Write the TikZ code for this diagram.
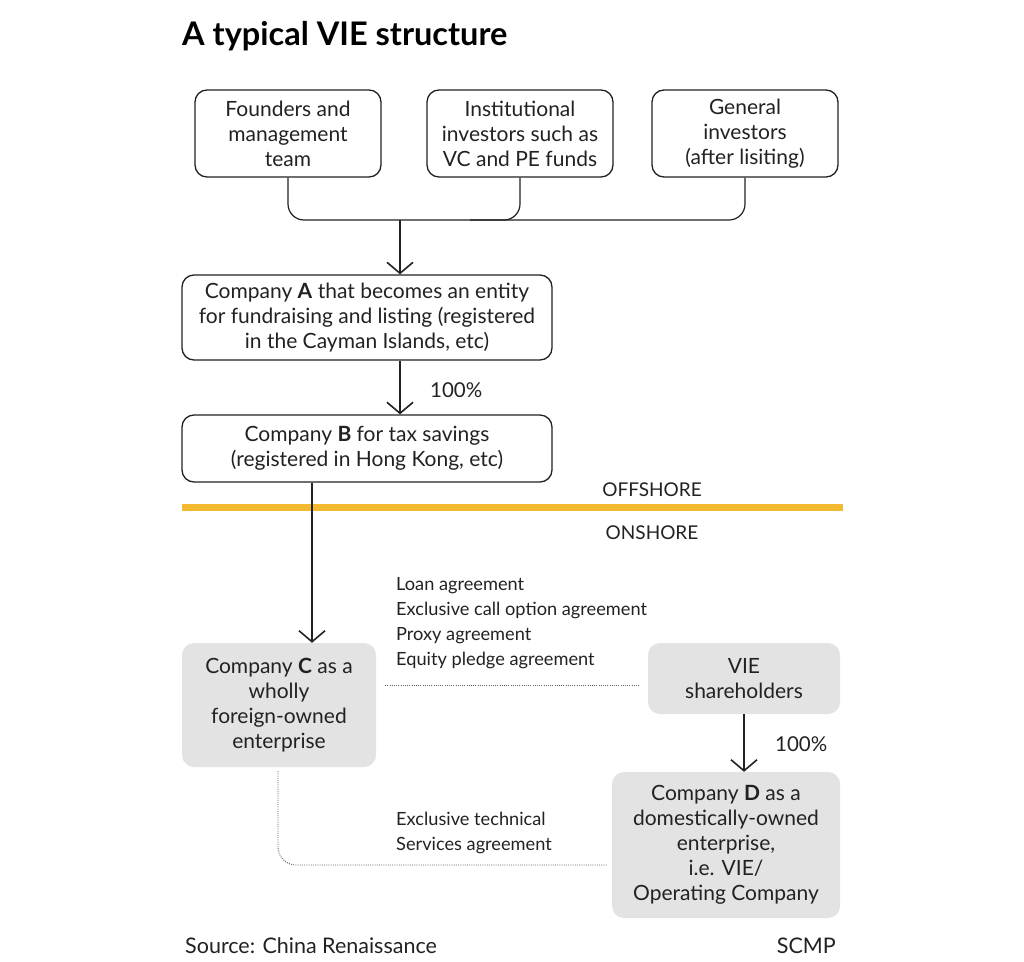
\documentclass[tikz,border=0pt]{standalone}
\usepackage{fontspec}
\setmainfont{Lato}
\usetikzlibrary{arrows.meta}
\definecolor{boxgray}{HTML}{E3E3E3}
\definecolor{bandyellow}{HTML}{F3BA2F}
\definecolor{ink}{HTML}{222222}
\tikzset{
  wbox/.style={draw=ink, line width=1.3pt, rounded corners=12pt, fill=white, align=center, inner sep=0pt, text=ink, font=\fontsize{21}{25}\selectfont},
  gbox/.style={fill=boxgray, rounded corners=12pt, align=center, inner sep=0pt, text=ink, font=\fontsize{21}{25}\selectfont},
  conn/.style={draw=ink, line width=1.2pt},
  arr/.style={conn, -{Straight Barb[length=11pt, width=26pt, line width=1.6pt]}},
  dots/.style={draw=ink!70, line width=0.9pt, dash pattern=on 1pt off 1.2pt},
  lbl/.style={text=ink, inner sep=0pt, font=\fontsize{18.2}{25}\selectfont},
  pct/.style={text=ink, inner sep=0pt, font=\fontsize{20.5}{23}\selectfont},
}
\begin{document}
\begin{tikzpicture}[x=1pt, y=-1pt]
\useasboundingbox (0,0) rectangle (1024,961);
\fill[white] (0,0) rectangle (1024,961);
\node[anchor=base west, inner sep=0pt, text=black, font=\bfseries\fontsize{32.5}{36}\selectfont] (title) at (182,45) {A typical VIE structure};

\node[wbox, minimum width=186pt, minimum height=87pt] (b1) at (288,133.5) {Founders and\\management\\team};
\node[wbox, minimum width=186pt, minimum height=87pt] (b2) at (520,133.5) {Institutional\\investors such as\\VC and PE funds};
\node[wbox, minimum width=186pt, minimum height=87pt] (b3) at (745,133.5) {General\\investors\\(after lisiting)};

\coordinate (ja) at (400,220);
\coordinate (jb) at (470,220);
\draw[conn, rounded corners=16pt] (b1.south) |- (ja) -| (b3.south);
\draw[conn, rounded corners=16pt] (b2.south) |- (jb);

\node[wbox, minimum width=370pt, minimum height=85pt] (bA) at (367,317.5) {Company \textbf{A} that becomes an entity\\for fundraising and listing (registered\\in the Cayman Islands, etc)};
\node[wbox, minimum width=370pt, minimum height=67pt] (bB) at (367,448.5) {Company \textbf{B} for tax savings\\(registered in Hong Kong, etc)};

\draw[arr] (ja) -- (ja |- bA.north);
\draw[arr] (bA.south -| ja) -- (bB.north -| ja);
\node[pct, anchor=west] (p1) at (430,390) {100\%};

\draw[bandyellow, line width=7pt] (182,507) -- (843,507);
\node[pct, font=\fontsize{19}{22}\selectfont] (off) at (652,490) {OFFSHORE};
\node[pct, font=\fontsize{19}{22}\selectfont] (on) at (652,533) {ONSHORE};

\node[gbox, minimum width=194pt, minimum height=124pt] (bC) at (279,705) {Company \textbf{C} as a\\wholly\\foreign-owned\\enterprise};
\node[gbox, minimum width=192pt, minimum height=71pt] (vie) at (744,678.5) {VIE\\shareholders};
\node[gbox, minimum width=228pt, minimum height=146pt] (bD) at (726,845) {Company \textbf{D} as a\\domestically-owned\\enterprise,\\i.e. VIE/\\Operating Company};

\coordinate (xc) at (312,500);
\draw[arr] (bB.south -| xc) -- (bC.north -| xc);
\draw[arr] (vie.south) -- (vie.south |- bD.north);
\node[pct, anchor=west] (p2) at (775,744) {100\%};

\node[lbl, anchor=north west, align=left] (agr) at (396,577) {Loan agreement\\Exclusive call option agreement\\Proxy agreement\\Equity pledge agreement};
\coordinate (yd) at (500,685);
\draw[dots, shorten <=9pt, shorten >=8pt] (bC.east |- yd) -- (vie.west |- yd);

\node[lbl, anchor=north west, align=left] (tech) at (396,812) {Exclusive technical\\Services agreement};
\coordinate (ye) at (500,865);
\draw[dots, rounded corners=18pt, shorten <=4pt, shorten >=5pt] (bC.south -| 278,0) |- (bD.west |- ye);

\node[pct, anchor=west, font=\fontsize{21.5}{24}\selectfont] (src) at (185,946) {Source: China Renaissance};
\node[pct, anchor=east, font=\fontsize{21.5}{24}\selectfont] (scmp) at (836,946) {SCMP};
\end{tikzpicture}
\end{document}
